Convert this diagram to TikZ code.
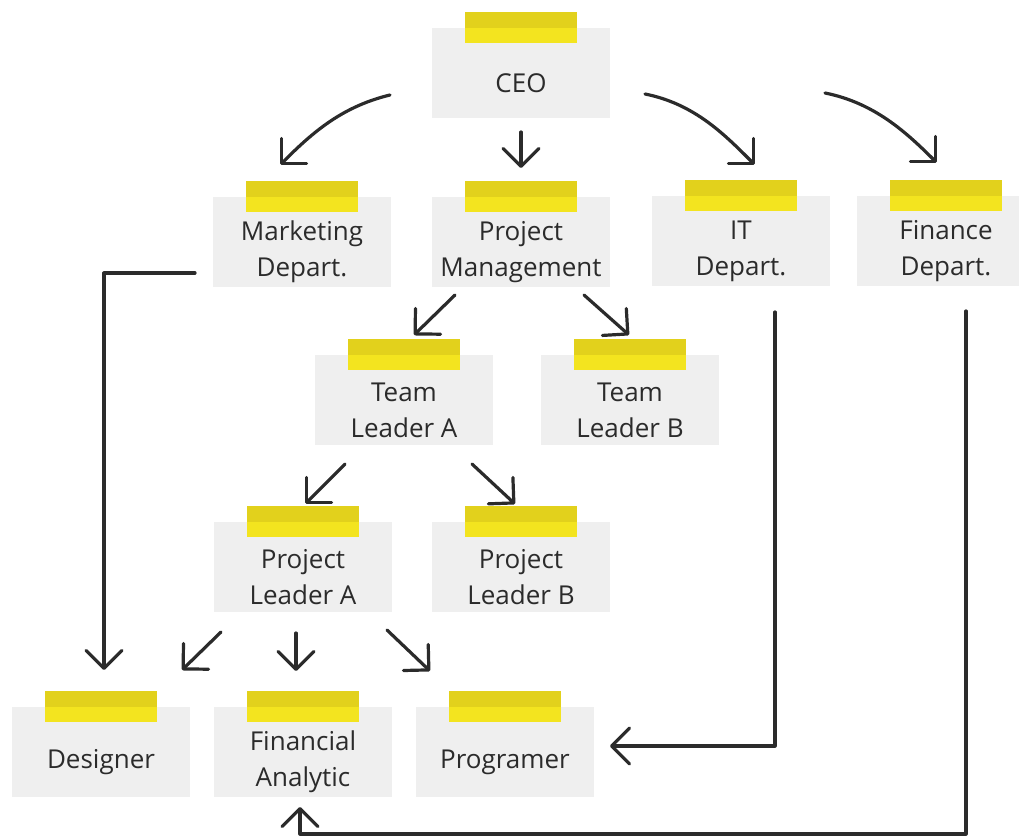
\documentclass[tikz,border=0pt]{standalone}
\usepackage{fontspec}
\setmainfont{Open Sans}
\usetikzlibrary{arrows.meta}
\definecolor{ink}{HTML}{2B2B2B}
\definecolor{cardgray}{HTML}{EFEFEF}
\definecolor{tapedark}{HTML}{E2D11C}
\definecolor{tapelight}{HTML}{F3E41F}
\tikzset{
	card/.style={fill=cardgray, minimum width=178pt, minimum height=90pt, inner sep=0pt, label={[cardtext]center:#1}},
	cardtext/.style={text=ink, align=center, yshift=-10pt, font=\fontsize{26}{36}\selectfont},
	arr/.style={draw=ink, line width=3.2pt, line cap=round, line join=round, -{Straight Barb[length=18pt,width=36pt,round]}},
}

\begin{document}
\begin{tikzpicture}[x=1pt,y=-1pt]
				\useasboundingbox (0,0) rectangle (1019,838);
				\node[card=CEO] (ceo) at (521,73) {};
				\node[card={Marketing\\Depart.}] (mkt) at (302,242) {};
				\node[card={Project\\Management}] (pm) at (521,242) {};
				\node[card={IT\\Depart.}] (it) at (741,241) {};
				\node[card={Finance\\Depart.}] (fin) at (946,241) {};
				\node[card={Team\\Leader A}] (tla) at (404,400) {};
				\node[card={Team\\Leader B}] (tlb) at (630,400) {};
				\node[card={Project\\Leader A}] (pla) at (303,567) {};
				\node[card={Project\\Leader B}] (plb) at (521,567) {};
				\node[card=Designer] (des) at (101,752) {};
				\node[card={Financial\\Analytic}] (fina) at (303,752) {};
				\node[card=Programer] (prog) at (505,752) {};
				\foreach \n in {ceo,mkt,pm,it,fin,tla,tlb,pla,plb,des,fina,prog} {
					\fill[tapedark] ([xshift=-56pt,yshift=16pt]\n.north) rectangle ([xshift=56pt]\n.north);
					\fill[tapelight] ([xshift=-56pt]\n.north) rectangle ([xshift=56pt,yshift=-15pt]\n.north);
				}
				\coordinate (ceo-l) at (390,95);
				\coordinate (mkt-t) at (280,165);
				\coordinate (ceo-b) at (521,132);
				\coordinate (pm-t) at (521,168);
				\coordinate (ceo-r) at (645,94);
				\coordinate (it-t) at (755,165);
				\coordinate (ceo-rr) at (825,93);
				\coordinate (fin-t) at (937,163);
				\coordinate (pm-l) at (455,295);
				\coordinate (tla-t) at (414,335);
				\coordinate (pm-r) at (584,295);
				\coordinate (tlb-t) at (629,335);
				\coordinate (tla-l) at (345,464);
				\coordinate (pla-t) at (305,504);
				\coordinate (tla-r) at (472,464);
				\coordinate (plb-t) at (515,504);
				\coordinate (pla-l) at (221,632);
				\coordinate (des-t) at (182,670);
				\coordinate (pla-b) at (296,633);
				\coordinate (fina-t) at (296,671);
				\coordinate (pla-r) at (387,630);
				\coordinate (prog-t) at (430,671);
				\coordinate (mkt-o) at (195,273);
				\coordinate (des-tt) at (104,670);
				\coordinate (it-o) at (775,312);
				\coordinate (prog-r) at (610,746);
				\coordinate (fin-o) at (966,311);
				\coordinate (fin-c) at (966,834);
				\coordinate (fina-b) at (300,807);
				\draw[arr] (ceo-l) .. controls +(-50,12) and +(30,-30) .. (mkt-t);
				\draw[arr] (ceo-b) -- (pm-t);
				\draw[arr] (ceo-r) .. controls +(50,10) and +(-30,-30) .. (it-t);
				\draw[arr] (ceo-rr) .. controls +(50,10) and +(-30,-30) .. (fin-t);
				\draw[arr] (pm-l) -- (tla-t);
				\draw[arr] (pm-r) -- (tlb-t);
				\draw[arr] (tla-l) -- (pla-t);
				\draw[arr] (tla-r) -- (plb-t);
				\draw[arr] (pla-l) -- (des-t);
				\draw[arr] (pla-b) -- (fina-t);
				\draw[arr] (pla-r) -- (prog-t);
				\draw[arr] (mkt-o) -| (des-tt);
				\draw[arr] (it-o) |- (prog-r);
				\draw[arr] (fin-o) -- (fin-c) -| (fina-b);
\end{tikzpicture}
\end{document}
